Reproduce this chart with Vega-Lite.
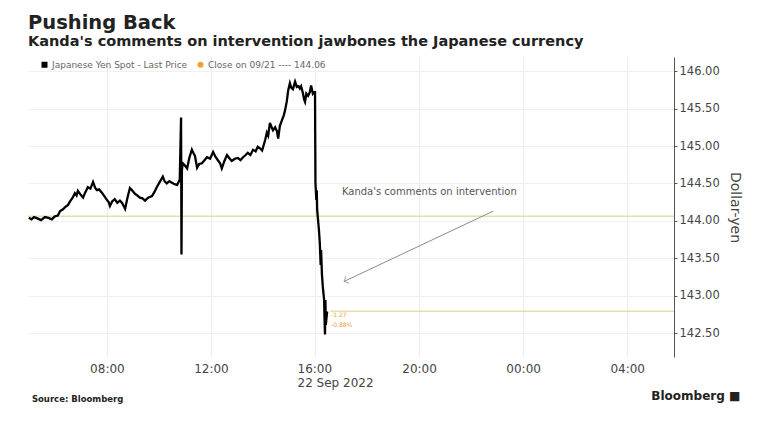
{
  "$schema": "https://vega.github.io/schema/vega-lite/v6.json",
  "width": 646,
  "height": 300,
  "autosize": "none",
  "padding": {"left": 28, "top": 57, "right": 97, "bottom": 65},
  "background": "white",
  "title": {
    "text": "Pushing Back",
    "subtitle": "Kanda's comments on intervention jawbones the Japanese currency",
    "anchor": "start",
    "frame": "group",
    "font": "DejaVu Sans",
    "fontSize": 19.5,
    "fontWeight": "bold",
    "color": "#222222",
    "subtitleFont": "DejaVu Sans",
    "subtitleFontSize": 14.5,
    "subtitleFontWeight": "bold",
    "subtitleColor": "#222222",
    "subtitlePadding": 1,
    "offset": 8
  },
  "config": {
    "view": {"stroke": null},
    "font": "DejaVu Sans"
  },
  "datasets": {
    "yen": [
      {"time": "2022-09-22T05:00:00Z", "price": 144.04},
      {"time": "2022-09-22T05:06:00Z", "price": 144.02},
      {"time": "2022-09-22T05:12:00Z", "price": 144.05},
      {"time": "2022-09-22T05:21:00Z", "price": 144.03},
      {"time": "2022-09-22T05:28:00Z", "price": 144.01},
      {"time": "2022-09-22T05:37:00Z", "price": 144.05},
      {"time": "2022-09-22T05:45:00Z", "price": 144.04},
      {"time": "2022-09-22T05:53:00Z", "price": 144.02},
      {"time": "2022-09-22T06:00:00Z", "price": 144.06},
      {"time": "2022-09-22T06:07:00Z", "price": 144.07},
      {"time": "2022-09-22T06:12:00Z", "price": 144.13},
      {"time": "2022-09-22T06:18:00Z", "price": 144.15},
      {"time": "2022-09-22T06:25:00Z", "price": 144.19},
      {"time": "2022-09-22T06:30:00Z", "price": 144.21},
      {"time": "2022-09-22T06:35:00Z", "price": 144.26},
      {"time": "2022-09-22T06:41:00Z", "price": 144.31},
      {"time": "2022-09-22T06:46:00Z", "price": 144.37},
      {"time": "2022-09-22T06:50:00Z", "price": 144.34},
      {"time": "2022-09-22T06:53:00Z", "price": 144.40},
      {"time": "2022-09-22T06:58:00Z", "price": 144.36},
      {"time": "2022-09-22T07:05:00Z", "price": 144.31},
      {"time": "2022-09-22T07:10:00Z", "price": 144.38},
      {"time": "2022-09-22T07:16:00Z", "price": 144.45},
      {"time": "2022-09-22T07:22:00Z", "price": 144.43},
      {"time": "2022-09-22T07:28:00Z", "price": 144.52},
      {"time": "2022-09-22T07:33:00Z", "price": 144.44},
      {"time": "2022-09-22T07:37:00Z", "price": 144.41},
      {"time": "2022-09-22T07:42:00Z", "price": 144.42},
      {"time": "2022-09-22T07:48:00Z", "price": 144.38},
      {"time": "2022-09-22T07:54:00Z", "price": 144.33},
      {"time": "2022-09-22T08:00:00Z", "price": 144.28},
      {"time": "2022-09-22T08:04:00Z", "price": 144.25},
      {"time": "2022-09-22T08:07:00Z", "price": 144.20},
      {"time": "2022-09-22T08:12:00Z", "price": 144.26},
      {"time": "2022-09-22T08:18:00Z", "price": 144.29},
      {"time": "2022-09-22T08:24:00Z", "price": 144.24},
      {"time": "2022-09-22T08:30:00Z", "price": 144.27},
      {"time": "2022-09-22T08:35:00Z", "price": 144.24},
      {"time": "2022-09-22T08:42:00Z", "price": 144.16},
      {"time": "2022-09-22T08:47:00Z", "price": 144.30},
      {"time": "2022-09-22T08:53:00Z", "price": 144.44},
      {"time": "2022-09-22T08:58:00Z", "price": 144.41},
      {"time": "2022-09-22T09:05:00Z", "price": 144.36},
      {"time": "2022-09-22T09:10:00Z", "price": 144.34},
      {"time": "2022-09-22T09:16:00Z", "price": 144.31},
      {"time": "2022-09-22T09:22:00Z", "price": 144.30},
      {"time": "2022-09-22T09:28:00Z", "price": 144.27},
      {"time": "2022-09-22T09:35:00Z", "price": 144.31},
      {"time": "2022-09-22T09:44:00Z", "price": 144.33},
      {"time": "2022-09-22T09:50:00Z", "price": 144.39},
      {"time": "2022-09-22T09:55:00Z", "price": 144.45},
      {"time": "2022-09-22T10:02:00Z", "price": 144.52},
      {"time": "2022-09-22T10:09:00Z", "price": 144.59},
      {"time": "2022-09-22T10:13:00Z", "price": 144.53},
      {"time": "2022-09-22T10:18:00Z", "price": 144.50},
      {"time": "2022-09-22T10:24:00Z", "price": 144.53},
      {"time": "2022-09-22T10:30:00Z", "price": 144.51},
      {"time": "2022-09-22T10:36:00Z", "price": 144.49},
      {"time": "2022-09-22T10:42:00Z", "price": 144.48},
      {"time": "2022-09-22T10:48:00Z", "price": 144.55},
      {"time": "2022-09-22T10:51:00Z", "price": 145.38},
      {"time": "2022-09-22T10:52:00Z", "price": 143.55},
      {"time": "2022-09-22T10:53:00Z", "price": 144.68},
      {"time": "2022-09-22T10:55:00Z", "price": 144.77},
      {"time": "2022-09-22T11:00:00Z", "price": 144.74},
      {"time": "2022-09-22T11:05:00Z", "price": 144.70},
      {"time": "2022-09-22T11:10:00Z", "price": 144.84},
      {"time": "2022-09-22T11:16:00Z", "price": 144.95},
      {"time": "2022-09-22T11:20:00Z", "price": 144.90},
      {"time": "2022-09-22T11:23:00Z", "price": 144.87},
      {"time": "2022-09-22T11:28:00Z", "price": 144.71},
      {"time": "2022-09-22T11:33:00Z", "price": 144.76},
      {"time": "2022-09-22T11:39:00Z", "price": 144.77},
      {"time": "2022-09-22T11:45:00Z", "price": 144.81},
      {"time": "2022-09-22T11:51:00Z", "price": 144.85},
      {"time": "2022-09-22T11:58:00Z", "price": 144.83},
      {"time": "2022-09-22T12:05:00Z", "price": 144.92},
      {"time": "2022-09-22T12:10:00Z", "price": 144.86},
      {"time": "2022-09-22T12:16:00Z", "price": 144.81},
      {"time": "2022-09-22T12:21:00Z", "price": 144.77},
      {"time": "2022-09-22T12:25:00Z", "price": 144.70},
      {"time": "2022-09-22T12:31:00Z", "price": 144.80},
      {"time": "2022-09-22T12:37:00Z", "price": 144.88},
      {"time": "2022-09-22T12:42:00Z", "price": 144.84},
      {"time": "2022-09-22T12:48:00Z", "price": 144.80},
      {"time": "2022-09-22T12:55:00Z", "price": 144.83},
      {"time": "2022-09-22T13:02:00Z", "price": 144.84},
      {"time": "2022-09-22T13:08:00Z", "price": 144.81},
      {"time": "2022-09-22T13:14:00Z", "price": 144.85},
      {"time": "2022-09-22T13:20:00Z", "price": 144.88},
      {"time": "2022-09-22T13:25:00Z", "price": 144.91},
      {"time": "2022-09-22T13:31:00Z", "price": 144.88},
      {"time": "2022-09-22T13:37:00Z", "price": 144.95},
      {"time": "2022-09-22T13:43:00Z", "price": 144.93},
      {"time": "2022-09-22T13:48:00Z", "price": 144.99},
      {"time": "2022-09-22T13:53:00Z", "price": 144.97},
      {"time": "2022-09-22T13:58:00Z", "price": 144.94},
      {"time": "2022-09-22T14:02:00Z", "price": 145.02},
      {"time": "2022-09-22T14:05:00Z", "price": 145.08},
      {"time": "2022-09-22T14:09:00Z", "price": 145.18},
      {"time": "2022-09-22T14:12:00Z", "price": 145.14},
      {"time": "2022-09-22T14:16:00Z", "price": 145.31},
      {"time": "2022-09-22T14:20:00Z", "price": 145.25},
      {"time": "2022-09-22T14:23:00Z", "price": 145.21},
      {"time": "2022-09-22T14:28:00Z", "price": 145.25},
      {"time": "2022-09-22T14:32:00Z", "price": 145.20},
      {"time": "2022-09-22T14:35:00Z", "price": 145.10},
      {"time": "2022-09-22T14:39:00Z", "price": 145.27},
      {"time": "2022-09-22T14:44:00Z", "price": 145.35},
      {"time": "2022-09-22T14:48:00Z", "price": 145.41},
      {"time": "2022-09-22T14:51:00Z", "price": 145.48},
      {"time": "2022-09-22T14:55:00Z", "price": 145.60},
      {"time": "2022-09-22T14:58:00Z", "price": 145.74},
      {"time": "2022-09-22T15:02:00Z", "price": 145.84},
      {"time": "2022-09-22T15:05:00Z", "price": 145.78},
      {"time": "2022-09-22T15:09:00Z", "price": 145.76},
      {"time": "2022-09-22T15:14:00Z", "price": 145.86},
      {"time": "2022-09-22T15:18:00Z", "price": 145.79},
      {"time": "2022-09-22T15:22:00Z", "price": 145.80},
      {"time": "2022-09-22T15:25:00Z", "price": 145.77},
      {"time": "2022-09-22T15:28:00Z", "price": 145.80},
      {"time": "2022-09-22T15:32:00Z", "price": 145.71},
      {"time": "2022-09-22T15:35:00Z", "price": 145.62},
      {"time": "2022-09-22T15:37:00Z", "price": 145.59},
      {"time": "2022-09-22T15:40:00Z", "price": 145.70},
      {"time": "2022-09-22T15:44:00Z", "price": 145.67},
      {"time": "2022-09-22T15:48:00Z", "price": 145.72},
      {"time": "2022-09-22T15:51:00Z", "price": 145.81},
      {"time": "2022-09-22T15:55:00Z", "price": 145.70},
      {"time": "2022-09-22T15:58:00Z", "price": 145.72},
      {"time": "2022-09-22T16:00:00Z", "price": 145.72},
      {"time": "2022-09-22T16:01:00Z", "price": 144.51},
      {"time": "2022-09-22T16:02:00Z", "price": 144.40},
      {"time": "2022-09-22T16:03:00Z", "price": 144.28},
      {"time": "2022-09-22T16:04:00Z", "price": 144.41},
      {"time": "2022-09-22T16:05:00Z", "price": 144.15},
      {"time": "2022-09-22T16:06:00Z", "price": 144.08},
      {"time": "2022-09-22T16:09:00Z", "price": 143.88},
      {"time": "2022-09-22T16:11:00Z", "price": 143.71},
      {"time": "2022-09-22T16:13:00Z", "price": 143.41},
      {"time": "2022-09-22T16:14:00Z", "price": 143.61},
      {"time": "2022-09-22T16:16:00Z", "price": 143.28},
      {"time": "2022-09-22T16:18:00Z", "price": 143.12},
      {"time": "2022-09-22T16:21:00Z", "price": 142.94},
      {"time": "2022-09-22T16:22:00Z", "price": 142.68},
      {"time": "2022-09-22T16:23:00Z", "price": 142.48},
      {"time": "2022-09-22T16:24:00Z", "price": 142.94},
      {"time": "2022-09-22T16:25:00Z", "price": 142.61},
      {"time": "2022-09-22T16:28:00Z", "price": 142.79}
    ]
  },
  "layer": [
    {
      "data": {"values": [{"price": 144.06}]},
      "mark": {"type": "rule", "color": "#e4dfae", "strokeWidth": 1.5},
      "encoding": {"y": {"field": "price", "type": "quantitative"}}
    },
    {
      "data": {"values": [{"start": "2022-09-22T16:35:00Z", "end": "2022-09-23T05:48:00Z", "price": 142.79}]},
      "mark": {"type": "rule", "color": "#e4dfae", "strokeWidth": 1.5},
      "encoding": {
        "x": {"field": "start", "type": "temporal"},
        "x2": {"field": "end"},
        "y": {"field": "price", "type": "quantitative"}
      }
    },
    {
      "data": {"name": "yen"},
      "transform": [{"calculate": "'Japanese Yen Spot - Last Price'", "as": "series"}],
      "mark": {"type": "line", "strokeWidth": 2.3, "strokeJoin": "miter"},
      "encoding": {
        "x": {
          "field": "time",
          "type": "temporal",
          "scale": {
            "type": "utc",
            "domain": [
              {"year": 2022, "month": 9, "date": 22, "hours": 4, "minutes": 58, "utc": true},
              {"year": 2022, "month": 9, "date": 23, "hours": 5, "minutes": 48, "utc": true}
            ]
          },
          "axis": {
            "title": null,
            "domain": false,
            "ticks": false,
            "grid": true,
            "gridColor": "#ececec",
            "values": [
              {"year": 2022, "month": 9, "date": 22, "hours": 8, "utc": true},
              {"year": 2022, "month": 9, "date": 22, "hours": 12, "utc": true},
              {"year": 2022, "month": 9, "date": 22, "hours": 16, "utc": true},
              {"year": 2022, "month": 9, "date": 22, "hours": 20, "utc": true},
              {"year": 2022, "month": 9, "date": 23, "hours": 0, "utc": true},
              {"year": 2022, "month": 9, "date": 23, "hours": 4, "utc": true}
            ],
            "labelExpr": "utchours(datum.value) == 16 && utcdate(datum.value) == 22 ? ['16:00', '22 Sep 2022'] : utcFormat(datum.value, '%H:%M')",
            "labelAlign": {"condition": {"test": "utchours(datum.value) == 16", "value": "left"}, "value": "center"},
            "labelOffset": {"condition": {"test": "utchours(datum.value) == 16", "value": -18}, "value": 0},
            "labelFont": "DejaVu Sans",
            "labelFontSize": 12,
            "labelColor": "#444444",
            "labelPadding": 6,
            "labelLineHeight": 14
          }
        },
        "y": {
          "field": "price",
          "type": "quantitative",
          "scale": {"domain": [142.18, 146.19], "zero": false, "nice": false},
          "axis": {
            "orient": "right",
            "title": "Dollar-yen",
            "titleFont": "DejaVu Sans",
            "titleFontSize": 14,
            "titleFontWeight": "normal",
            "titleColor": "#444444",
            "titlePadding": 8,
            "values": [142.5, 143, 143.5, 144, 144.5, 145, 145.5, 146],
            "format": ".2f",
            "domainColor": "#555555",
            "tickColor": "#555555",
            "tickSize": 3,
            "labelFont": "DejaVu Sans",
            "labelFontSize": 11.5,
            "labelColor": "#444444",
            "labelPadding": 2,
            "grid": true,
            "gridColor": "#f0f0f0"
          }
        },
        "color": {
          "field": "series",
          "type": "nominal",
          "scale": {
            "domain": ["Japanese Yen Spot - Last Price", "Close on 09/21 ---- 144.06"],
            "range": ["#000000", "#f0a030"]
          },
          "legend": {
            "title": null,
            "orient": "none",
            "direction": "horizontal",
            "legendX": 12,
            "legendY": 3,
            "labelFont": "DejaVu Sans",
            "labelFontSize": 9,
            "labelColor": "#666666",
            "symbolSize": 36,
            "symbolType": "square",
            "symbolStrokeWidth": 0,
            "columnPadding": 8,
            "symbolOffset": 0,
            "labelOffset": 3,
            "encode": {
              "symbols": {
                "update": {
                  "shape": {"signal": "datum.value == 'Japanese Yen Spot - Last Price' ? 'square' : 'circle'"},
                  "fill": {"signal": "datum.value == 'Japanese Yen Spot - Last Price' ? '#000000' : '#f0a030'"},
                  "fillOpacity": {"value": 1}
                }
              }
            }
          }
        }
      }
    },
    {
      "data": {"values": [{"time": "2022-09-22T22:51:00Z", "price": 144.13, "time2": "2022-09-22T17:07:00Z", "price2": 143.19}]},
      "mark": {"type": "rule", "color": "#8a8a8a", "strokeWidth": 1},
      "encoding": {
        "x": {"field": "time", "type": "temporal"},
        "x2": {"field": "time2"},
        "y": {"field": "price", "type": "quantitative"},
        "y2": {"field": "price2"}
      }
    },
    {
      "data": {"values": [{"time": "2022-09-22T17:07:00Z", "price": 143.19}]},
      "mark": {"type": "point", "shape": "M -1 -1 L 0 0 L -1 1", "filled": false, "stroke": "#8a8a8a", "strokeWidth": 1, "size": 60, "angle": 154.5},
      "encoding": {
        "x": {"field": "time", "type": "temporal"},
        "y": {"field": "price", "type": "quantitative"}
      }
    },
    {
      "data": {"values": [{"time": "2022-09-22T17:02:00Z", "price": 144.38, "label": "Kanda's comments on intervention"}]},
      "mark": {"type": "text", "align": "left", "baseline": "middle", "font": "DejaVu Sans", "fontSize": 10, "color": "#555555"},
      "encoding": {
        "x": {"field": "time", "type": "temporal"},
        "y": {"field": "price", "type": "quantitative"},
        "text": {"field": "label"}
      }
    },
    {
      "data": {"values": [
        {"time": "2022-09-22T16:37:00Z", "price": 142.745, "label": "-1.27"},
        {"time": "2022-09-22T16:37:00Z", "price": 142.61, "label": "-0.88%"}
      ]},
      "mark": {"type": "text", "align": "left", "baseline": "middle", "font": "DejaVu Sans", "fontSize": 6, "color": "#e8a040"},
      "encoding": {
        "x": {"field": "time", "type": "temporal"},
        "y": {"field": "price", "type": "quantitative"},
        "text": {"field": "label"}
      }
    },
    {
      "data": {"values": [{"label": "Source: Bloomberg"}]},
      "mark": {"type": "text", "align": "left", "baseline": "middle", "font": "DejaVu Sans", "fontSize": 8.5, "fontWeight": "bold", "color": "#222222"},
      "encoding": {
        "x": {"datum": {"year": 2022, "month": 9, "date": 22, "hours": 5, "minutes": 7, "utc": true}, "type": "temporal"},
        "y": {"datum": 141.62, "type": "quantitative"},
        "text": {"field": "label"}
      }
    },
    {
      "data": {"values": [{"label": "Bloomberg ■"}]},
      "mark": {"type": "text", "align": "right", "baseline": "middle", "font": "DejaVu Sans", "fontSize": 12, "fontWeight": "bold", "color": "#222222"},
      "encoding": {
        "x": {"datum": {"year": 2022, "month": 9, "date": 23, "hours": 8, "minutes": 21, "utc": true}, "type": "temporal"},
        "y": {"datum": 141.66, "type": "quantitative"},
        "text": {"field": "label"}
      }
    }
  ]
}
